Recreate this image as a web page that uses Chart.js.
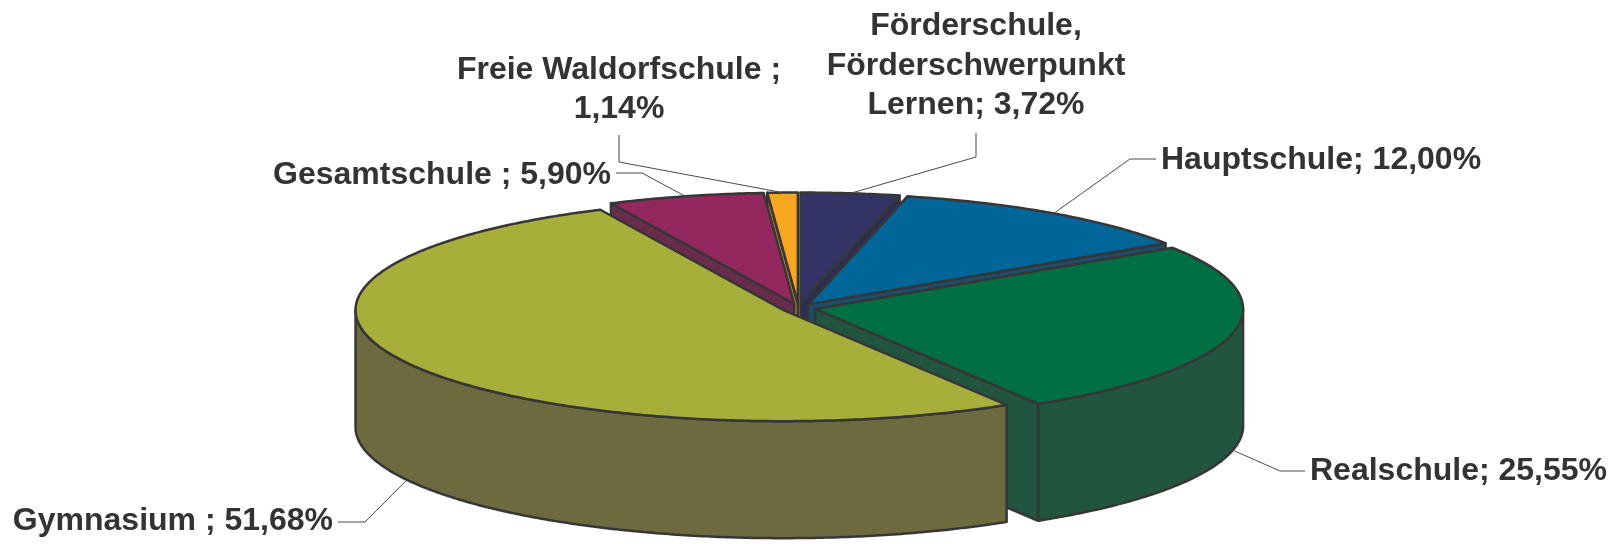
<!DOCTYPE html>
<html>
<head>
<meta charset="utf-8">
<script src="https://cdn.jsdelivr.net/npm/chart.js@4/dist/chart.umd.min.js"></script>
<style>
  html, body { margin: 0; padding: 0; background: #fff; }
  #wrap { width: 1617px; height: 544px; position: relative; }
</style>
</head>
<body>
<div id="wrap"><canvas id="chart-schools"></canvas></div>
<script>
// Schulformen – share of pupils (%), 3D exploded pie
const categories = [
  "Förderschule, Förderschwerpunkt Lernen",
  "Hauptschule",
  "Realschule",
  "Gymnasium ",
  "Gesamtschule ",
  "Freie Waldorfschule ",
];
const shares = [3.72, 12.0, 25.55, 51.68, 5.9, 1.14];

const topColors = ["#333366", "#006699", "#007044", "#a8ae3a", "#93285e", "#f6a71f"];
const sideColors = ["#2c2c54", "#1e4d6b", "#215540", "#6c6a3e", "#6a2c4d", "#b97b2c"];

// projection of the flat pie into the tilted view
const TILT = 0.2595;   // vertical squash of the top face
const DEPTH = 117;     // height of the pie walls, px
const EDGE = "#363636";

// where each data label sits (text anchor + leader elbow)
const labelLayout = [
  { x: 976, y: 26.5, align: "center", wrap: 340, elbow: [[976, 157], [976, 133]] },
  { x: 1161, y: 160, align: "left", elbow: [[1130, 159], [1156, 159]] },
  { x: 1310, y: 471, align: "left", elbow: [[1280, 471], [1305, 471]] },
  { x: 333, y: 521, align: "right", elbow: [[365, 522], [338, 522]] },
  { x: 611, y: 175, align: "right", elbow: [[642, 173], [616, 173]] },
  { x: 619, y: 70, align: "center", wrap: 340, elbow: [[619, 162], [619, 135]] },
];
const LINE_H = 39.5;
const FONT = "bold 32px 'Liberation Sans', Arial, sans-serif";

function pct(v) {
  return v.toFixed(2).replace(".", ",") + "%";
}

function _slices(chart) {
  const meta = chart.getDatasetMeta(0);
  return meta.data.map((arc, i) => {
    const p = arc.getProps(["x", "y", "startAngle", "endAngle", "outerRadius"], true);
    const off = arc.options.offset || 0;
    const mid = (p.startAngle + p.endAngle) / 2;
    return {
      i,
      a0: p.startAngle,
      a1: p.endAngle,
      mid,
      r: p.outerRadius,
      cx: p.x + Math.cos(mid) * off,
      cy: p.y + Math.sin(mid) * off * TILT,
    };
  });
}

function _pt(s, a, dz) {
  return [s.cx + s.r * Math.cos(a), s.cy + s.r * TILT * Math.sin(a) + dz];
}

function _rim(ctx, s, from, to, dz, first) {
  const n = Math.max(2, Math.ceil(Math.abs(to - from) / 0.01));
  for (let j = 0; j <= n; j++) {
    const a = from + ((to - from) * j) / n;
    const [x, y] = _pt(s, a, dz);
    if (j === 0 && first) ctx.moveTo(x, y);
    else ctx.lineTo(x, y);
  }
}

function _paint(ctx, fill) {
  ctx.fillStyle = fill;
  ctx.fill();
  ctx.strokeStyle = EDGE;
  ctx.lineWidth = 2.5;
  ctx.lineJoin = "round";
  ctx.stroke();
}

const pie3d = {
  id: "pie3d",
  beforeDatasetsDraw(chart) {
    const ctx = chart.ctx;
    const slices = _slices(chart);

    // radial cut faces that face the viewer, back to front
    const faces = [];
    for (const s of slices) {
      if (Math.cos(s.a0) < 0) faces.push({ s, a: s.a0 });
      if (Math.cos(s.a1) > 0) faces.push({ s, a: s.a1 });
    }
    faces.sort((p, q) => Math.sin(p.a) - Math.sin(q.a));
    ctx.save();
    for (const f of faces) {
      const s = f.s;
      const rt = _pt(s, f.a, 0);
      const rb = _pt(s, f.a, DEPTH);
      ctx.beginPath();
      ctx.moveTo(s.cx, s.cy);
      ctx.lineTo(rt[0], rt[1]);
      ctx.lineTo(rb[0], rb[1]);
      ctx.lineTo(s.cx, s.cy + DEPTH);
      ctx.closePath();
      _paint(ctx, sideColors[s.i]);
    }

    // outer walls on the front half
    for (const s of slices) {
      const b0 = Math.max(s.a0, 0);
      const b1 = Math.min(s.a1, Math.PI);
      if (b1 <= b0) continue;
      ctx.beginPath();
      _rim(ctx, s, b0, b1, 0, true);
      _rim(ctx, s, b1, b0, DEPTH, false);
      ctx.closePath();
      _paint(ctx, sideColors[s.i]);
    }

    // top faces
    for (const s of slices) {
      ctx.beginPath();
      ctx.moveTo(s.cx, s.cy);
      _rim(ctx, s, s.a0, s.a1, 0, false);
      ctx.closePath();
      _paint(ctx, topColors[s.i]);
    }
    ctx.restore();
    return false;
  },
  afterDraw(chart) {
    const ctx = chart.ctx;
    const slices = _slices(chart);
    ctx.save();
    ctx.font = FONT;
    ctx.textBaseline = "middle";
    ctx.fillStyle = "#333333";
    slices.forEach((s) => {
      const L = labelLayout[s.i];
      // leader from the slice edge at its middle angle
      const front = Math.sin(s.mid) > 0;
      const anchor = _pt(s, s.mid, front ? DEPTH : 0);
      ctx.beginPath();
      ctx.moveTo(anchor[0], anchor[1]);
      for (const p of L.elbow) ctx.lineTo(p[0], p[1]);
      ctx.strokeStyle = "#4a4a4a";
      ctx.lineWidth = 1;
      ctx.stroke();

      const full = categories[s.i] + "; " + pct(shares[s.i]);
      let lines = [full];
      if (L.wrap) {
        lines = [];
        let cur = "";
        for (const w of full.split(" ")) {
          const test = cur ? cur + " " + w : w;
          if (cur && ctx.measureText(test).width > L.wrap) {
            lines.push(cur);
            cur = w;
          } else cur = test;
        }
        if (cur) lines.push(cur);
      }
      ctx.textAlign = L.align;
      lines.forEach((t, j) => ctx.fillText(t, L.x, L.y + j * LINE_H));
    });
    ctx.restore();
  },
};

const canvas = document.getElementById("chart-schools");
new Chart(canvas, {
  type: "pie",
  data: {
    labels: categories,
    datasets: [
      {
        data: shares,
        backgroundColor: topColors,
        borderWidth: 0,
        offset: 17,
      },
    ],
  },
  options: {
    responsive: true,
    maintainAspectRatio: false,
    animation: false,
    radius: 428,
    layout: { padding: { left: 0, right: 20, top: 72, bottom: 0 } },
    plugins: {
      legend: { display: false },
      tooltip: { enabled: false },
    },
  },
  plugins: [pie3d],
});
</script>
</body>
</html>
